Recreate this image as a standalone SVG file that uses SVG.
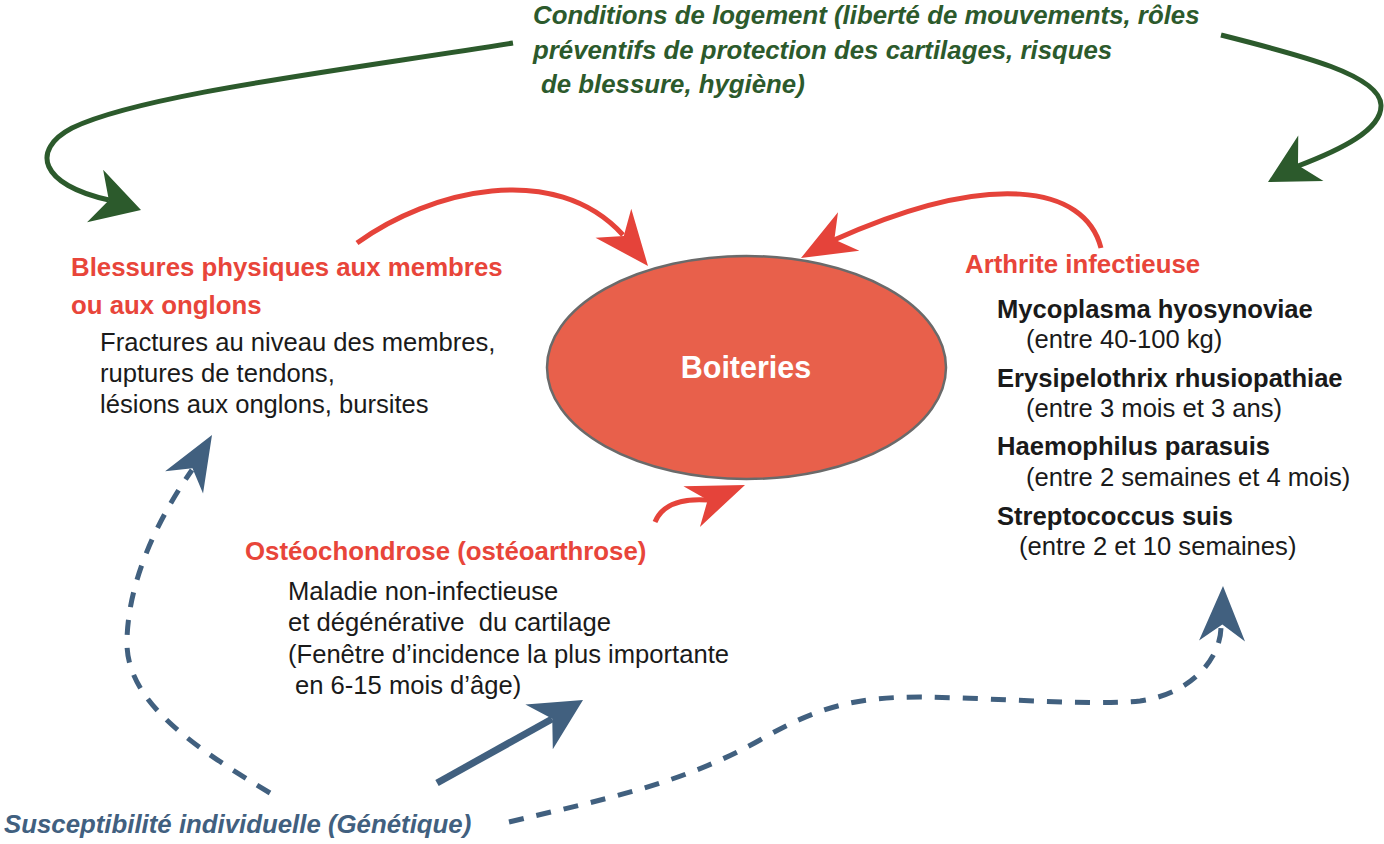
<svg xmlns="http://www.w3.org/2000/svg" xmlns:xlink="http://www.w3.org/1999/xlink" width="1384" height="844" viewBox="0 0 1384 844">
<style>
  text { font-family: "Liberation Sans", Arial, sans-serif; }
  .green { fill: #2C5A2C; font-weight: bold; font-style: italic; font-size: 25.8px; }
  .red { fill: #E8453A; font-weight: bold; font-size: 25.8px; }
  .body { fill: #1A1A1A; font-size: 25.6px; }
  .bold { fill: #1A1A1A; font-weight: bold; font-size: 25.6px; }
  .blue { fill: #41607F; font-weight: bold; font-style: italic; font-size: 25.8px; }
  .title { fill: #FFFFFF; font-weight: bold; font-size: 30.5px; }
  .cg { fill: none; stroke: #2C5A2C; stroke-width: 5; stroke-linecap: butt; }
  .cr { fill: none; stroke: #E5433A; stroke-width: 5; }
  .cb { fill: none; stroke: #41607F; stroke-width: 5; }
  .dash { stroke-dasharray: 15 13; }
</style>
<defs>
  <path id="head" d="M0,0 L-50,-25 L-35,0 L-50,25 Z"/>
</defs>
<rect width="1384" height="844" fill="#FFFFFF"/>

<g id="connectors">
  <!-- green: housing conditions -> injuries -->
  <path class="cg" d="M513,43 C 330,72 140,95 72,128 C 30,150 40,185 109,200"/>
  <use xlink:href="#head" fill="#2C5A2C" transform="translate(141,210) rotate(17) scale(0.96,1.1)"/>
  <!-- green: housing conditions -> arthritis -->
  <path class="cg" d="M1221,35 C 1300,55 1380,75 1381,105 C 1382,130 1340,150 1298,166"/>
  <use xlink:href="#head" fill="#2C5A2C" transform="translate(1268,182) rotate(151) scale(0.98,1.04)"/>
  <!-- red: injuries -> boiteries -->
  <path class="cr" d="M357,243 C 430,190 555,160 623,235"/>
  <use xlink:href="#head" fill="#E5433A" transform="translate(648,266) rotate(51) scale(1.1,0.92)"/>
  <!-- red: arthritis -> boiteries -->
  <path class="cr" d="M1101,248 C 1085,185 990,170 834,240"/>
  <use xlink:href="#head" fill="#E5433A" transform="translate(801,258) rotate(151) scale(1.09,0.88)"/>
  <!-- red: osteochondrose -> boiteries -->
  <path class="cr" d="M655,522 C 662,505 680,498 708,500"/>
  <use xlink:href="#head" fill="#E5433A" transform="translate(745,485) rotate(-22) scale(1.15,0.88)"/>
  <!-- blue dashed: susceptibility -> injuries -->
  <path class="cb dash" d="M270,793 C 190,745 125,700 127,640 C 128,590 150,530 192,470"/>
  <use xlink:href="#head" fill="#41607F" transform="translate(212,435) rotate(-59.5) scale(1.1,0.88)"/>
  <!-- blue solid: susceptibility -> osteochondrose -->
  <path class="cb" style="stroke-width:7" d="M437,783 L552,719"/>
  <use xlink:href="#head" fill="#41607F" transform="translate(583,700) rotate(-31.5) scale(1.03,1.05)"/>
  <!-- blue dashed: susceptibility -> arthritis -->
  <path class="cb dash" d="M509,822 C 600,800 680,785 760,740 C 820,705 860,697 920,697 C 1000,698 1090,706 1140,701 C 1190,694 1220,660 1221,628"/>
  <use xlink:href="#head" fill="#41607F" transform="translate(1223,586) rotate(-89) scale(1.1,0.92)"/>
</g>

<g id="node-conditions">
  <text class="green" x="533" y="24">Conditions de logement (liberté de mouvements, rôles</text>
  <text class="green" x="533" y="59">préventifs de protection des cartilages, risques</text>
  <text class="green" x="541" y="93">de blessure, hygiène)</text>
</g>

<g id="node-boiteries">
  <ellipse cx="746.5" cy="367.5" rx="199.5" ry="111.5" fill="#E8604B" stroke="#6A6A6A" stroke-width="2.5"/>
  <text class="title" x="746" y="378" text-anchor="middle">Boiteries</text>
</g>

<g id="node-blessures">
  <text class="red" x="71" y="276">Blessures physiques aux membres</text>
  <text class="red" x="71" y="314">ou aux onglons</text>
  <text class="body" x="100" y="351">Fractures au niveau des membres,</text>
  <text class="body" x="100" y="382">ruptures de tendons,</text>
  <text class="body" x="100" y="413">lésions aux onglons, bursites</text>
</g>

<g id="node-arthrite">
  <text class="red" x="965" y="273">Arthrite infectieuse</text>
  <text class="bold" x="997" y="318">Mycoplasma hyosynoviae</text>
  <text class="body" x="1026" y="348">(entre 40-100 kg)</text>
  <text class="bold" x="997" y="387">Erysipelothrix rhusiopathiae</text>
  <text class="body" x="1026" y="417">(entre 3 mois et 3 ans)</text>
  <text class="bold" x="997" y="455">Haemophilus parasuis</text>
  <text class="body" x="1026" y="486">(entre 2 semaines et 4 mois)</text>
  <text class="bold" x="997" y="525">Streptococcus suis</text>
  <text class="body" x="1019" y="555">(entre 2 et 10 semaines)</text>
</g>

<g id="node-osteo">
  <text class="red" x="245" y="560">Ostéochondrose (ostéoarthrose)</text>
  <text class="body" x="288" y="600">Maladie non-infectieuse</text>
  <text class="body" x="288" y="631" xml:space="preserve">et dégénérative  du cartilage</text>
  <text class="body" x="288" y="663">(Fenêtre d’incidence la plus importante</text>
  <text class="body" x="295" y="694">en 6-15 mois d’âge)</text>
</g>

<g id="node-susceptibilite">
  <text class="blue" x="4" y="833">Susceptibilité individuelle (Génétique)</text>
</g>
</svg>
